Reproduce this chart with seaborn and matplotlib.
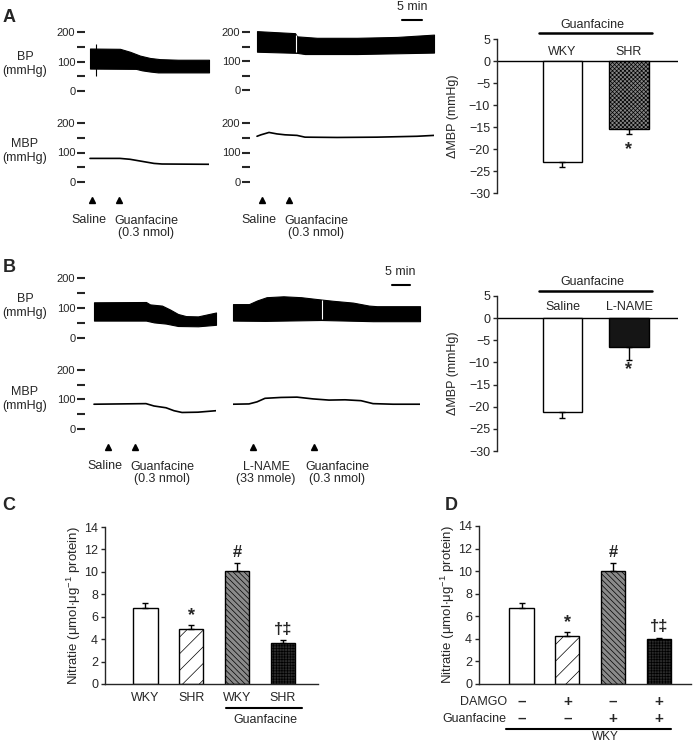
import numpy as np
import pandas as pd
import matplotlib
matplotlib.use("Agg")
import matplotlib.pyplot as plt
from matplotlib.lines import Line2D
import seaborn as sns

sns.set_style("ticks")
plt.rcParams['font.family'] = ['Liberation Sans', 'DejaVu Sans']
plt.rcParams['mathtext.default'] = 'regular'
plt.rcParams['hatch.linewidth'] = 0.5
plt.rcParams['axes.linewidth'] = 1.0

# ---- trace data (time in min, pressures in mmHg) ----
# A, WKY
a1_t = [0, 7.5, 10, 12.5, 15, 17.5, 22, 29.75]
a1_top = [144, 143, 133, 120, 112, 108, 106, 106]
a1_bt = [0, 11.5, 13, 15, 17, 29.75]
a1_bot = [76, 75, 70, 66, 63, 63]
a1_mt = [0, 7.5, 10, 13, 16, 18, 29.75]
a1_mbp = [80, 80, 77, 70, 63, 61, 60]
a1_spike = (1.5, 51, 159)
a1_inj = [0.5, 7.25]

# A, SHR
a2_t = [0, 4, 9.5, 10, 15, 25, 35, 44.25]
a2_top = [203, 200, 196, 185, 180, 180, 183, 191]
a2_bt = [0, 10, 12, 25, 44.25]
a2_bot = [132, 128, 124, 124, 129]
a2_mt = [0, 1, 3, 5, 7, 10, 12, 20, 30, 40, 44.25]
a2_mbp = [155, 160, 168, 163, 160, 158, 152, 151, 152, 155, 158]
a2_gap = 9.75
a2_inj = [1.25, 8]

# B, saline
b1_t = [0, 13, 14, 17, 19, 21, 23, 26, 30.5]
b1_top = [119, 120, 112, 108, 95, 80, 73, 72, 85]
b1_bt = [0, 13, 15, 18, 21, 26, 30.5]
b1_bot = [58, 58, 52, 48, 40, 39, 44]
b1_mt = [0, 13, 15, 18, 20, 22, 26, 30.5]
b1_mbp = [84, 86, 78, 72, 62, 56, 57, 62]
b1_inj = [3.5, 10.25]

# B, L-NAME
b2_t = [0, 4, 6, 8.4, 12.6, 17, 20.9, 25, 30, 34, 36, 46.75]
b2_top = [113, 113, 125, 136, 139, 136, 130, 124, 118, 108, 106, 106]
b2_bt = [0, 8, 22, 35, 46.75]
b2_bot = [58, 57, 60, 56, 56]
b2_mt = [0, 4, 6, 8, 12, 16, 20, 24, 28, 32, 35, 40, 46.75]
b2_mbp = [84, 85, 92, 104, 107, 108, 102, 98, 99, 96, 86, 84, 84]
b2_gap = 22.3
b2_inj = [5, 20.25]

# ---- bar data ----
a_groups = ['WKY', 'SHR']
a_vals = [-23.0, -15.5]
a_sem = [1.2, 1.1]

b_groups = ['Saline', 'L-NAME']
b_vals = [-21.2, -6.6]
b_sem = [1.4, 2.9]

c_groups = ['WKY', 'SHR', 'WKY ', 'SHR ']
c_vals = [6.8, 4.9, 10.1, 3.7]
c_sem = [0.4, 0.4, 0.7, 0.2]
c_marks = ['', '*', '#', '†‡']

d_groups = ['ctrl', 'DAMGO', 'Guanfacine', 'DAMGO+Guanfacine']
d_vals = [6.7, 4.25, 10.0, 4.0]
d_sem = [0.45, 0.4, 0.7, 0.1]
d_marks = ['', '*', '#', '†‡']
d_damgo = ['\u2013', '+', '\u2013', '+']
d_guan = ['\u2013', '\u2013', '+', '+']

W, H = 694, 745
fig = plt.figure(figsize=(W / 100, H / 100), dpi=100)
TXT = 9


def add_ax(x0, y0, x1, y1):
    return fig.add_axes([x0 / W, 1 - y1 / H, (x1 - x0) / W, (y1 - y0) / H])


def ftext(x, y, s, **kw):
    fig.text(x / W, 1 - y / H, s, **kw)


def fline(x0, x1, y, lw=1.8):
    fig.add_artist(Line2D([x0 / W, x1 / W], [1 - y / H, 1 - y / H], color='k', lw=lw))


def trace_axes(x0, y0, x1, y1, gap, end, ticks=True):
    ax = add_ax(x0, y0, x1, y1)
    ax.set_xlim(-gap, end)
    ax.set_ylim(0, 200)
    for s in ax.spines.values():
        s.set_visible(False)
    ax.set_xticks([])
    if ticks:
        ax.set_yticks([0, 50, 100, 150, 200])
        ax.set_yticklabels(['0', '', '100', '', '200'])
        ax.tick_params(axis='y', length=6.0, width=1.5, labelsize=8, pad=1)
    else:
        ax.set_yticks([])
    ax.patch.set_alpha(0)
    return ax


def bp_trace(ax, t, top, bt, bot, gap=None):
    tt = sorted(set(t) | set(bt))
    ax.fill_between(tt, np.interp(tt, bt, bot), np.interp(tt, t, top), color='k', lw=0.8,
                    clip_on=False)
    if gap is not None:
        ax.vlines(gap, np.interp(gap, bt, bot) + 2, np.interp(gap, t, top) - 2,
                  color='white', lw=0.8)


def mbp_trace(ax, t, v, inj):
    sns.lineplot(x=t, y=v, ax=ax, color='k', lw=1.2, errorbar=None)
    ax.set_xlabel('')
    ax.set_ylabel('')
    ax.plot(inj, [-0.31] * len(inj), marker='^', ms=4.5, color='k', ls='none',
            transform=ax.get_xaxis_transform(), clip_on=False)


# ---- panel A traces ----
ax = trace_axes(85, 32, 209, 91, 1.25, 29.75)
bp_trace(ax, a1_t, a1_top, a1_bt, a1_bot)
ax.vlines(a1_spike[0], a1_spike[1], a1_spike[2], color='k', lw=0.8)
ax = trace_axes(85, 123, 209, 182, 1.25, 29.75)
mbp_trace(ax, a1_mt, a1_mbp, a1_inj)

ax = trace_axes(250, 32, 434, 90, 1.75, 44.25)
bp_trace(ax, a2_t, a2_top, a2_bt, a2_bot, a2_gap)
ax = trace_axes(250, 123, 434, 182, 1.75, 44.25)
mbp_trace(ax, a2_mt, a2_mbp, a2_inj)

# ---- panel B traces ----
ax = trace_axes(85, 278, 216, 338, 2.25, 30.5)
bp_trace(ax, b1_t, b1_top, b1_bt, b1_bot)
ax = trace_axes(85, 370, 216, 429, 2.25, 30.5)
mbp_trace(ax, b1_mt, b1_mbp, b1_inj)

ax = trace_axes(233, 278, 420, 338, 0, 46.75, ticks=False)
bp_trace(ax, b2_t, b2_top, b2_bt, b2_bot, b2_gap)
ax = trace_axes(233, 370, 420, 429, 0, 46.75, ticks=False)
mbp_trace(ax, b2_mt, b2_mbp, b2_inj)

# trace labels
lab = dict(fontsize=TXT, ha='center', va='center', linespacing=1.15)
ftext(25, 64, 'BP\n(mmHg)', **lab)
ftext(25, 151, 'MBP\n(mmHg)', **lab)
ftext(25, 306, 'BP\n(mmHg)', **lab)
ftext(25, 399, 'MBP\n(mmHg)', **lab)

ev = dict(fontsize=TXT, va='center', linespacing=1.1)
ftext(89, 220, 'Saline', ha='center', **ev)
ftext(146, 227, 'Guanfacine\n(0.3 nmol)', ha='center', multialignment='center', **ev)
ftext(259, 220, 'Saline', ha='center', **ev)
ftext(316, 227, 'Guanfacine\n(0.3 nmol)', ha='center', multialignment='center', **ev)
ftext(105, 466, 'Saline', ha='center', **ev)
ftext(162, 473, 'Guanfacine\n(0.3 nmol)', ha='center', multialignment='center', **ev)
ftext(266, 473, 'L-NAME\n(33 nmole)', ha='center', multialignment='center', **ev)
ftext(337, 473, 'Guanfacine\n(0.3 nmol)', ha='center', multialignment='center', **ev)

# 5 min scale bars
ftext(412, 7, '5 min', fontsize=TXT, ha='center', va='center')
fline(402, 422, 20, lw=1.5)
ftext(400, 272, '5 min', fontsize=TXT, ha='center', va='center')
fline(392, 410, 285, lw=1.5)

# panel letters
for x, y, s in [(9, 17, 'A'), (9, 268, 'B'), (9, 505, 'C'), (451, 505, 'D')]:
    ftext(x, y, s, fontsize=13, fontweight='bold', ha='center', va='center')


# ---- bar panels ----
def bar_panel(ax, groups, vals, sems, colors, hatches, width):
    df = pd.DataFrame({'group': groups, 'val': vals})
    sns.barplot(data=df, x='group', y='val', hue='group', palette=dict(zip(groups, colors)),
                legend=False, width=width, edgecolor='k', linewidth=1.0, errorbar=None,
                saturation=1, ax=ax)
    for p, h in zip(ax.patches, hatches):
        if h:
            p.set_hatch(h)
    x = np.arange(len(vals))
    v = np.array(vals)
    s = np.array(sems)
    lower = np.where(v < 0, s, 0)
    upper = np.where(v < 0, 0, s)
    ax.errorbar(x, v, yerr=[lower, upper], fmt='none', ecolor='k', elinewidth=1.0,
                capsize=2.5, capthick=1.0, zorder=1)
    ax.set_xlabel('')
    ax.set_ylabel('')
    sns.despine(ax=ax)
    ax.tick_params(axis='y', length=3, width=1, labelsize=9, pad=2)
    ax.patch.set_alpha(0)


def delta_panel(y0, y1, groups, vals, sems, colors, hatches, star_off, lab_y):
    ax = add_ax(497, y0, 678, y1)
    bar_panel(ax, groups, vals, sems, colors, hatches, 0.6)
    ax.set_xlim(-0.985, 1.737)
    ax.set_ylim(-30, 5)
    ax.set_yticks(np.arange(-30, 6, 5))
    ax.set_yticklabels([str(t).replace('-', '\u2212') for t in range(-30, 6, 5)])
    ax.spines['bottom'].set_visible(False)
    ax.set_xticks([])
    ax.axhline(0, color='k', lw=1.0, zorder=0)
    ax.set_ylabel('\u0394MBP (mmHg)', fontsize=TXT, labelpad=7)
    for i, g in enumerate(groups):
        ax.text(i, lab_y, g, ha='center', va='center', fontsize=TXT)
    ax.text(1, vals[1] - sems[1] - star_off, '*', ha='center', va='center',
            fontsize=13, fontweight='bold')
    return ax


delta_panel(39, 193, a_groups, a_vals, a_sem, ['white', '#858585'], ['', 'xxxxxxxx'], 3.6, 2.0)
ftext(592, 25, 'Guanfacine', fontsize=TXT, ha='center', va='center')
fline(539, 652, 33)

delta_panel(296, 451, b_groups, b_vals, b_sem, ['white', '#151515'], ['', ''], 2.2, 2.5)
ftext(592, 282, 'Guanfacine', fontsize=TXT, ha='center', va='center')
fline(539, 652, 291)

nit_label = r'Nitratie ($\mu$mol$\cdot\mu$g$^{-1}$ protein)'
nit_colors = ['white', 'white', '#8a8a8a', '#2a2a2a']
nit_hatch = ['', '//', '\\\\\\\\\\\\', '++++++']


def nitrate_panel(x0, x1, y0, groups, vals, sems, marks, xlim):
    ax = add_ax(x0, y0, x1, 684)
    bar_panel(ax, groups, vals, sems, nit_colors, nit_hatch, 0.53)
    ax.set_xlim(*xlim)
    ax.set_ylim(0, 14)
    ax.set_yticks(range(0, 15, 2))
    ax.set_ylabel(nit_label, fontsize=9.5, labelpad=1)
    for i, m in enumerate(marks):
        if m:
            off = 0.0 if m == '*' else 0.3
            ax.text(i, vals[i] + sems[i] + off, m, ha='center', va='bottom',
                    fontsize=13 if m == '*' else 12, fontweight='bold')
    return ax


ax = nitrate_panel(105, 318, 527, c_groups, c_vals, c_sem, c_marks, (-0.884, 3.766))
ax.set_xticks(range(4))
ax.set_xticklabels([g.strip() for g in c_groups], fontsize=TXT)
ax.tick_params(axis='x', length=0, pad=6)
fline(226, 302, 708, lw=1.5)
ftext(265, 720, 'Guanfacine', fontsize=TXT, ha='center', va='center')

ax = nitrate_panel(479, 691, 526, d_groups, d_vals, d_sem, d_marks, (-0.928, 3.70))
ax.set_xticks([])
tr = ax.get_xaxis_transform()
for i in range(4):
    ax.text(i, -0.114, d_damgo[i], transform=tr, ha='center', va='center',
            fontsize=11, fontweight='bold')
    ax.text(i, -0.222, d_guan[i], transform=tr, ha='center', va='center',
            fontsize=11, fontweight='bold')
ftext(507, 702, 'DAMGO', fontsize=TXT, ha='right', va='center')
ftext(506, 719, 'Guanfacine', fontsize=TXT, ha='right', va='center')
fline(506, 671, 729, lw=1.5)
ftext(605, 737, 'WKY', fontsize=8.5, ha='center', va='center')

fig.savefig('out.png', dpi=100)
